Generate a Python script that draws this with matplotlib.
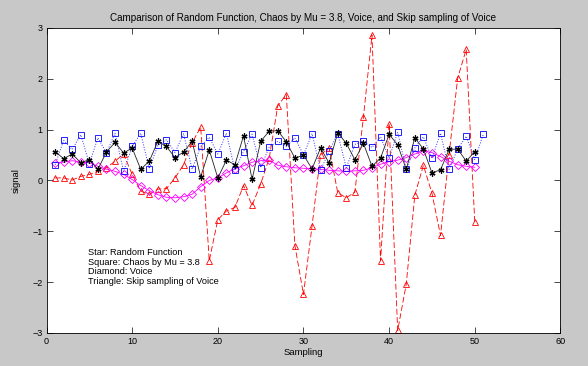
import matplotlib
matplotlib.use("Agg")
import matplotlib.pyplot as plt
import numpy as np

plt.rcParams['font.family'] = ['Liberation Sans', 'DejaVu Sans']

# Data
random_func = [0.57, 0.43, 0.52, 0.35, 0.41, 0.22, 0.56, 0.75, 0.54, 0.64,
               0.22, 0.38, 0.77, 0.67, 0.45, 0.56, 0.77, 0.07, 0.60, 0.05,
               0.40, 0.31, 0.88, 0.02, 0.77, 0.97, 0.98, 0.76, 0.44, 0.50,
               0.23, 0.64, 0.34, 0.94, 0.73, 0.41, 0.73, 0.28, 0.44, 0.91,
               0.70, 0.22, 0.84, 0.62, 0.15, 0.21, 0.61, 0.62, 0.38, 0.57]
chaos = [0.31, 0.79, 0.61, 0.90, 0.33, 0.84, 0.54, 0.93, 0.18, 0.67,
         0.93, 0.23, 0.69, 0.80, 0.55, 0.92, 0.22, 0.67, 0.85, 0.52,
         0.93, 0.20, 0.57, 0.91, 0.25, 0.66, 0.77, 0.67, 0.84, 0.50,
         0.92, 0.20, 0.58, 0.92, 0.25, 0.71, 0.77, 0.65, 0.86, 0.44,
         0.95, 0.22, 0.64, 0.86, 0.44, 0.93, 0.22, 0.62, 0.87, 0.41, 0.91]
voice = [0.35, 0.36, 0.39, 0.36, 0.35, 0.28, 0.22, 0.18, 0.12, 0.02,
         -0.10, -0.20, -0.28, -0.33, -0.34, -0.32, -0.27, -0.12, 0.00, 0.05,
         0.15, 0.23, 0.29, 0.36, 0.39, 0.40, 0.30, 0.27, 0.25, 0.24,
         0.23, 0.22, 0.20, 0.19, 0.18, 0.19, 0.20, 0.25, 0.32, 0.37,
         0.40, 0.45, 0.52, 0.58, 0.55, 0.47, 0.38, 0.31, 0.28, 0.26]
skip_voice = [0.05, 0.05, 0.01, 0.08, 0.12, 0.18, 0.25, 0.38, 0.52, 0.12,
              -0.21, -0.27, -0.17, -0.16, 0.05, 0.31, 0.74, 1.05, -1.58, -0.77,
              -0.60, -0.53, -0.10, -0.49, -0.07, 0.44, 1.47, 1.69, -1.28, -2.24,
              -0.90, 0.51, 0.64, -0.24, -0.34, -0.23, 1.25, 2.86, -1.58, 1.12,
              -2.95, -2.04, -0.29, 0.30, -0.25, -1.08, 0.51, 2.01, 2.58, -0.82]

x_rand = np.arange(1, len(random_func) + 1)
x_chaos = np.arange(1, len(chaos) + 1)
x_voice = np.arange(1, len(voice) + 1)
x_skip = np.arange(1, len(skip_voice) + 1)

legend_lines = ["Star: Random Function", "Square: Chaos by Mu = 3.8",
                "Diamond: Voice", "Triangle: Skip sampling of Voice"]
title = "Camparison of Random Function, Chaos by Mu = 3.8, Voice, and Skip sampling of Voice"
xticks = [0, 10, 20, 30, 40, 50, 60]
yticks = [-3, -2, -1, 0, 1, 2, 3]

bg = '#c8c8c8'
fig = plt.figure(figsize=(5.88, 3.66), dpi=100, facecolor=bg)
ax = fig.add_axes([0.0791, 0.0902, 0.874, 0.8333])
ax.set_facecolor('white')

lw = 0.6
ax.plot(x_skip, skip_voice, linestyle=(0, (7, 3)), color='red', lw=lw,
        marker='^', markersize=5, markerfacecolor='none', markeredgecolor='red', mew=0.6)
ax.plot(x_voice, voice, linestyle='-', color='magenta', lw=lw,
        marker='D', markersize=4.2, markerfacecolor='none', markeredgecolor='magenta', mew=0.6)
ax.plot(x_chaos, chaos, linestyle=':', color='#3333ff', lw=0.7,
        marker='s', markersize=5, markerfacecolor='none', markeredgecolor='blue', mew=0.6)
ax.plot(x_rand, random_func, linestyle='-', color='#222222', lw=lw,
        marker=(6, 2, 0), markersize=4.3, markeredgecolor='black', mew=0.9)

ax.set_xlim(0, 60)
ax.set_ylim(-3, 3)
ax.set_xticks(xticks)
ax.set_yticks(yticks)
ax.tick_params(direction='in', length=4, width=0.5, labelsize=6.5, top=True, right=True, pad=3)
for s in ax.spines.values():
    s.set_linewidth(0.6)

ax.set_title(title, fontsize=7.1, pad=5)
ax.set_xlabel("Sampling", fontsize=6.8, labelpad=1)
ax.set_ylabel("signal", fontsize=6.8, labelpad=8)

for i, txt in enumerate(legend_lines):
    ax.text(4.9, -1.41 - 0.195 * i, txt, fontsize=6.6, va='center', ha='left')

fig.savefig("out.png", dpi=100, facecolor=bg)
